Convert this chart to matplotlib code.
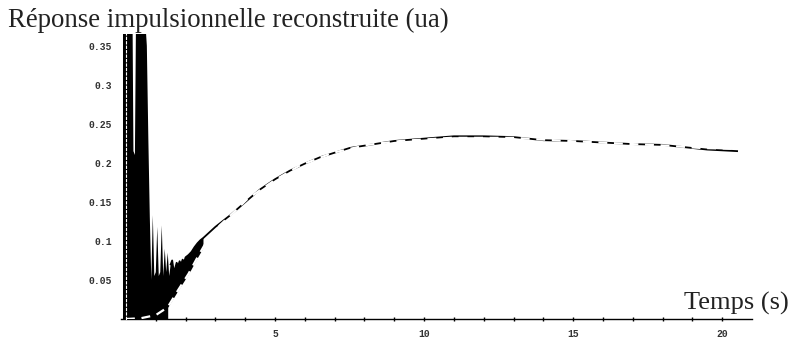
import numpy as np
import matplotlib.pyplot as plt

# measured (reconstructed) impulse response, noisy
t_meas = np.array([-0.1, -0.05, 0.0, 0.05, 0.1, 0.15, 0.2, 0.25, 0.3, 0.35, 0.4, 0.45, 0.5,
                   0.55, 0.6, 0.65, 0.7, 0.75, 0.8, 0.85, 0.9, 0.95, 1.0, 1.05, 1.1, 1.15,
                   1.2, 1.25, 1.3, 1.35, 1.4, 1.45, 1.5, 1.55, 1.6, 1.65, 1.7, 1.75, 1.8,
                   1.85, 1.9, 1.95, 2.0, 2.1, 2.2, 2.3, 2.4, 2.5, 2.6, 2.8, 3.0, 3.2, 3.5,
                   3.8, 4.1, 4.5, 5.0, 5.5, 6.0, 6.5, 7.0, 7.5, 8.0, 9.0, 10.0, 11.0, 12.0,
                   13.0, 14.0, 15.0, 16.0, 17.0, 18.0, 19.0, 19.5, 20.0, 20.5])
y_meas = np.array([0.62, 0.7, 0.6, 0.7, 0.55, 0.65, 0.5, 0.215, 0.21, 0.45, 0.6, 0.5, 0.55,
                   0.48, 0.42, 0.38, 0.35, 0.232, 0.13, 0.05, 0.133, 0.055, 0.06, 0.118,
                   0.055, 0.06, 0.12, 0.055, 0.09, 0.06, 0.085, 0.055, 0.07, 0.075, 0.062,
                   0.065, 0.072, 0.068, 0.074, 0.07, 0.076, 0.073, 0.079, 0.082, 0.086,
                   0.092, 0.097, 0.101, 0.104, 0.111, 0.118, 0.124, 0.133, 0.143, 0.153,
                   0.166, 0.179, 0.19, 0.199, 0.207, 0.213, 0.219, 0.222, 0.228, 0.231,
                   0.234, 0.234, 0.233, 0.229, 0.228, 0.226, 0.224, 0.223, 0.219, 0.217,
                   0.216, 0.215])

# fitted model curve
t_fit = np.array([0.0, 0.5, 1.0, 1.4, 1.75, 2.1, 2.4, 2.7, 3.15, 3.6, 4.05, 4.5, 5.0, 5.85,
                  6.95, 8.1, 9.2, 10.9, 13.0, 14.8, 15.9, 17.0, 18.15, 19.3, 20.5])
y_fit = np.array([0.0, 0.001, 0.005, 0.015, 0.037, 0.058, 0.079, 0.099, 0.12, 0.136, 0.153,
                  0.165, 0.178, 0.197, 0.213, 0.223, 0.228, 0.232, 0.232, 0.228, 0.226,
                  0.224, 0.222, 0.219, 0.218])

x_ticks = [5, 10, 15, 20]
y_ticks = [0.05, 0.1, 0.15, 0.2, 0.25, 0.3, 0.35]
y_labels = ['0.05', '0.1', '0.15', '0.2', '0.25', '0.3', '0.35']

fig = plt.figure(figsize=(7.9, 3.42), dpi=100)
ax = fig.add_axes([121.5 / 790, 23 / 342, (752 - 121.5) / 790, 285 / 342])

# black filling of the noisy response down to the axis (early part)
ax.fill_between(t_meas, 0, y_meas, where=t_meas <= 2.6, color='black', lw=0, zorder=1)
# area under the fit in white
ax.fill_between(t_fit, 0, y_fit, where=(t_fit >= 1.4) & (t_fit <= 3.2),
                color='white', lw=0, zorder=1.5)
late = t_meas >= 1.5
ax.plot(t_meas[late], y_meas[late], color='black', lw=1.3, zorder=3)
ax.plot(t_fit, y_fit, color='white', lw=1.6, ls=(0, (4, 3)), zorder=4)

ax.set_xlim(-0.15, 21.0)
ax.set_ylim(0, 0.365)

for s in ['top', 'right']:
    ax.spines[s].set_visible(False)
ax.spines['left'].set_position(('data', 0))
ax.spines['left'].set_color('white')
ax.spines['left'].set_linestyle((0, (2, 2)))
ax.spines['left'].set_zorder(5)
ax.spines['bottom'].set_linewidth(1.0)

ax.set_xticks(x_ticks)
ax.set_xticks(np.arange(1, 21), minor=True)
ax.set_yticks(y_ticks)
ax.set_yticklabels(y_labels)
ax.tick_params(axis='x', which='both', length=2.5, width=1, direction='inout', pad=6,
               labelsize=7, colors='black')
ax.tick_params(axis='y', length=0, pad=10, labelsize=7)
for lab in ax.get_xticklabels() + ax.get_yticklabels():
    lab.set_family('Liberation Mono')
    lab.set_fontweight('bold')
    lab.set_color('#333333')

fig.text(8 / 790, (342 - 27) / 342, 'Réponse impulsionnelle reconstruite (ua)',
         family='Liberation Serif', fontsize=19.4, color='#222222', va='baseline', ha='left')
fig.text(789 / 790, (342 - 310) / 342, 'Temps (s)', family='Liberation Serif',
         fontsize=19, color='#222222', va='baseline', ha='right')

plt.savefig('out.png', dpi=100)
